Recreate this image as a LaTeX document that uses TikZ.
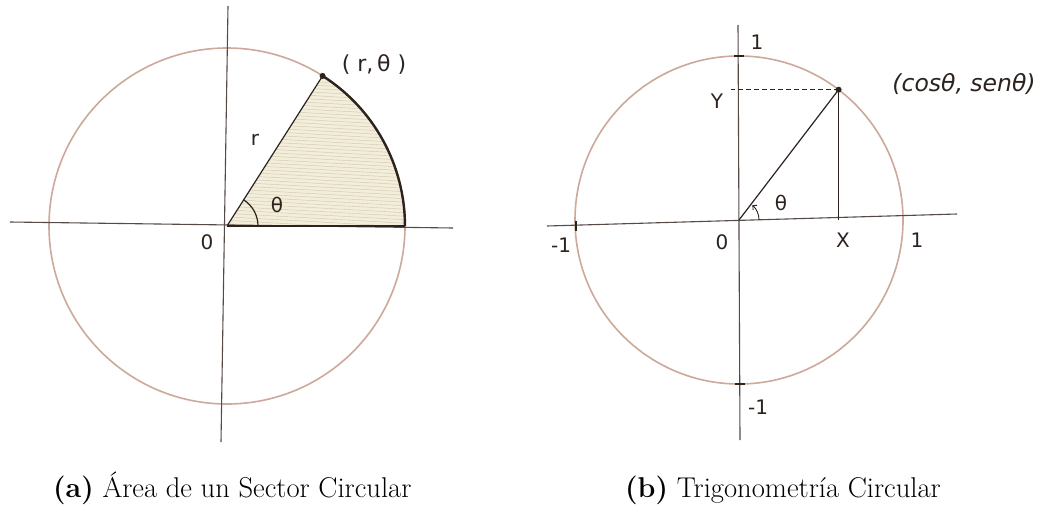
\documentclass[tikz,border=0pt]{standalone}
\usepackage{fontspec}
\newfontfamily\hand{DejaVu Sans}
\usetikzlibrary{arrows.meta}
\definecolor{pencil}{RGB}{205,168,155}
\definecolor{axiscol}{RGB}{85,75,70}
\definecolor{sectcol}{RGB}{243,238,218}
\definecolor{hatchcol}{RGB}{210,200,180}
\definecolor{inkcol}{RGB}{45,35,30}
\tikzset{
  circ/.style={draw=pencil, line width=1.6pt},
  axisline/.style={draw=axiscol, line width=1.1pt},
  ink/.style={draw=inkcol, line width=1.2pt},
  boldarc/.style={draw=inkcol, line width=2.4pt},
  lab/.style={font=\hand\fontsize{20}{24}\selectfont, text=inkcol, inner sep=0pt},
  capt/.style={font=\fontsize{28.6}{34}\selectfont, anchor=base west, inner sep=0pt},
  dotmark/.style={circle, fill=inkcol, inner sep=0pt, minimum size=6pt}
}
\begin{document}
\begin{tikzpicture}[x=1pt,y=-1pt]
\useasboundingbox (0,0) rectangle (1040,506);
\fill[white] (0,0) rectangle (1040,506);

% ---------- (a) ----------
\coordinate (O1) at (227,226);
\coordinate (P1) at (322.6,75.9);
\coordinate (A1) at (405,226);
\fill[sectcol] (O1) -- (A1) arc[start angle=0, end angle=57.5, radius=178pt] -- cycle;
\begin{scope}
  \clip (O1) -- (A1) arc[start angle=0, end angle=57.5, radius=178pt] -- cycle;
  \foreach \k in {0,...,46} {
    \draw[hatchcol, line width=0.45pt] (230,70+3.5*\k) -- (410,80+3.5*\k);
  }
\end{scope}
\draw[circ] (O1) circle[radius=178pt];
\coordinate (hl1) at (10,222);
\coordinate (hr1) at (453,228);
\coordinate (vt1) at (228,6);
\coordinate (vb1) at (221,442);
\draw[axisline] (hl1) -- (hr1);
\draw[axisline] (vt1) -- (vb1);
\draw[ink] (O1) -- (A1);
\draw[ink] (O1) -- (P1);
\draw[boldarc] (P1) arc[start angle=57.5, end angle=0, radius=178pt];
\draw[ink] (O1) ++(31pt,0) arc[start angle=0, end angle=57.5, radius=31pt];
\node[dotmark] (D1) at (P1) {};
\node[lab, font=\hand\fontsize{22}{26}\selectfont] (rt1) at (374,65) {( r,\,θ )};
\node[lab] (r1) at (255,140) {r};
\node[lab] (th1) at (277,205) {θ};
\node[lab] (z1) at (207,242) {0};

% ---------- (b) ----------
\coordinate (O2) at (739,220);
\coordinate (P2) at (838.6,89.7);
\coordinate (F2) at (838.6,220);
\coordinate (Y2) at (731,89.7);
\draw[circ] (O2) circle[radius=164pt];
\coordinate (hl2) at (547,226);
\coordinate (hr2) at (957,214);
\coordinate (vt2) at (738,25);
\coordinate (vb2) at (740,440);
\draw[axisline] (hl2) -- (hr2);
\draw[axisline] (vt2) -- (vb2);
\draw[ink] (O2) -- (P2);
\draw[ink] (P2) -- (F2);
\draw[ink, line width=0.8pt, dash pattern=on 5pt off 3pt] (P2) -- (Y2);
\coordinate (t1) at (576,226);
\coordinate (t2) at (739,56);
\coordinate (t3) at (740,384);
\draw[ink] ([yshift=-5pt]t1) -- ([yshift=5pt]t1);
\draw[ink] ([xshift=-5pt]t2) -- ([xshift=5pt]t2);
\draw[ink] ([xshift=-5pt]t3) -- ([xshift=5pt]t3);
\draw[ink, line width=0.9pt, -{Straight Barb[length=3pt]}] (O2) ++(20pt,0) arc[start angle=0, end angle=48, radius=20pt];
\node[dotmark] (D2) at (P2) {};
\node[lab, font=\hand\itshape\fontsize{23.5}{26}\selectfont] (cs) at (964,84) {(cosθ, senθ)};
\node[lab] (one2) at (757,42) {1};
\node[lab] (y2) at (717,101) {Y};
\node[lab] (th2) at (781,203) {θ};
\node[lab] (m1a) at (561,245) {-1};
\node[lab] (z2) at (722,242) {0};
\node[lab] (x2) at (843,240) {X};
\node[lab] (one1) at (917,240) {1};
\node[lab] (m1b) at (758,407) {-1};

% ---------- captions ----------
\node[capt] (ca) at (53,497) {\textbf{(a)} Área de un Sector Circular};
\node[capt] (cb) at (625,497) {\textbf{(b)} Trigonometría Circular};
\end{tikzpicture}
\end{document}
